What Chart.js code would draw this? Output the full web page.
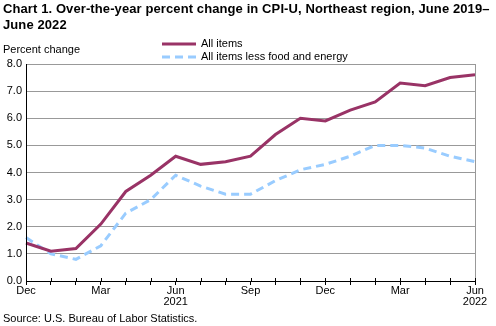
<!DOCTYPE html>
<html>
<head>
<meta charset="utf-8">
<script src="https://cdn.jsdelivr.net/npm/chart.js@4"></script>
<style>
    body { margin: 0; background: #fff; font-family: "Liberation Sans", Arial, sans-serif; }
    #wrap { position: relative; width: 496px; height: 326px; overflow: hidden; }
    #chart { position: absolute; left: 0; top: 0; }
    .title { position: absolute; left: 3px; top: 1px; font-size: 13px; font-weight: bold; line-height: 16px; width: 492px; letter-spacing: 0.1px; }
    .ylabel { position: absolute; left: 3px; top: 43px; font-size: 11px; }
    .legend { position: absolute; left: 162px; top: 37px; font-size: 11px; line-height: 13px; }
    .legend div { display: flex; align-items: center; height: 13px; }
    .legend canvas { margin-right: 5px; }
    .source { position: absolute; left: 3px; top: 312px; font-size: 11px; }
</style>
</head>
<body>
<div id="wrap">
    <canvas id="chart" width="496" height="326"></canvas>
    <div class="title">Chart 1. Over-the-year percent change in CPI-U, Northeast region, June 2019–June 2022</div>
    <div class="ylabel">Percent change</div>
    <div class="legend" id="legend"></div>
    <div class="source">Source: U.S. Bureau of Labor Statistics.</div>
</div>
<script>
// Data
const months = ['Dec 2020', 'Jan 2021', 'Feb 2021', 'Mar 2021', 'Apr 2021', 'May 2021', 'Jun 2021',
    'Jul 2021', 'Aug 2021', 'Sep 2021', 'Oct 2021', 'Nov 2021', 'Dec 2021',
    'Jan 2022', 'Feb 2022', 'Mar 2022', 'Apr 2022', 'May 2022', 'Jun 2022'];
const allItems = [1.4, 1.1, 1.2, 2.1, 3.3, 3.9, 4.6, 4.3, 4.4, 4.6, 5.4, 6.0, 5.9, 6.3, 6.6, 7.3, 7.2, 7.5, 7.6];
const lessFoodEnergy = [1.6, 1.0, 0.8, 1.3, 2.5, 3.0, 3.9, 3.5, 3.2, 3.2, 3.7, 4.1, 4.3, 4.6, 5.0, 5.0, 4.9, 4.6, 4.4];
const xTickLabels = {0: 'Dec', 3: 'Mar', 6: ['Jun', '2021'], 9: 'Sep', 12: 'Dec', 15: 'Mar', 18: ['Jun', '2022']};
const yTicks = [0, 1, 2, 3, 4, 5, 6, 7, 8];

const seriesStyles = [
    { label: 'All items', color: '#993366', dash: [] },
    { label: 'All items less food and energy', color: '#99CCFF', dash: [8, 5] }
];

// Right border, axis lines and the upper half of the x ticks
const axisDecor = {
    id: 'axisDecor',
    afterDraw(chart) {
        const { ctx, chartArea, scales } = chart;
        const bottom = Math.round(chartArea.bottom);
        ctx.save();
        ctx.lineWidth = 1;
        ctx.strokeStyle = '#999';
        ctx.beginPath();
        ctx.moveTo(Math.round(chartArea.right) + 0.5, chartArea.top);
        ctx.lineTo(Math.round(chartArea.right) + 0.5, bottom);
        ctx.stroke();
        ctx.strokeStyle = '#000';
        ctx.beginPath();
        ctx.moveTo(chartArea.left, bottom + 0.5);
        ctx.lineTo(chartArea.right + 1, bottom + 0.5);
        ctx.moveTo(Math.round(chartArea.left) + 0.5, chartArea.top);
        ctx.lineTo(Math.round(chartArea.left) + 0.5, bottom);
        for (let i = 0; i < months.length; i++) {
            const x = Math.round(scales.x.getPixelForValue(i)) + 0.5;
            ctx.moveTo(x, bottom - 3);
            ctx.lineTo(x, bottom + 1);
        }
        ctx.stroke();
        ctx.restore();
    }
};

const chart = new Chart(document.getElementById('chart'), {
    type: 'line',
    data: {
        labels: months,
        datasets: [
            {
                label: seriesStyles[0].label,
                data: allItems,
                borderColor: seriesStyles[0].color,
                borderWidth: 3,
                pointRadius: 0,
                tension: 0
            },
            {
                label: seriesStyles[1].label,
                data: lessFoodEnergy,
                borderColor: seriesStyles[1].color,
                borderWidth: 3,
                borderDash: seriesStyles[1].dash,
                pointRadius: 0,
                tension: 0
            }
        ]
    },
    options: {
        responsive: false,
        animation: false,
        layout: {
            padding: { left: 0, top: 64, right: 21, bottom: 13 }
        },
        plugins: {
            legend: { display: false },
            tooltip: { enabled: false }
        },
        scales: {
            x: {
                offset: false,
                grid: {
                    display: true,
                    drawOnChartArea: false,
                    drawTicks: true,
                    tickLength: 4,
                    color: '#000',
                    lineWidth: 1
                },
                border: { display: false },
                ticks: {
                    autoSkip: false,
                    maxRotation: 0,
                    color: '#000',
                    padding: 0,
                    font: { family: 'Liberation Sans', size: 11, lineHeight: 1.05 },
                    callback: (v, i) => xTickLabels[i] || ''
                },
                afterFit: (scale) => { scale.height = 32; }
            },
            y: {
                min: 0,
                max: 8,
                afterBuildTicks: (scale) => { scale.ticks = yTicks.map(v => ({ value: v })); },
                grid: { color: '#999', lineWidth: 1, drawTicks: false },
                border: { display: false },
                ticks: {
                    color: '#000',
                    padding: 4,
                    font: { family: 'Liberation Sans', size: 11 },
                    callback: (v) => v.toFixed(1)
                },
                afterFit: (scale) => { scale.width = 26; }
            }
        }
    },
    plugins: [axisDecor]
});

// Legend
const legendEl = document.getElementById('legend');
seriesStyles.forEach(s => {
    const row = document.createElement('div');
    const sw = document.createElement('canvas');
    sw.width = 34; sw.height = 6;
    const c = sw.getContext('2d');
    c.strokeStyle = s.color;
    c.lineWidth = 3;
    c.setLineDash(s.dash);
    c.beginPath(); c.moveTo(0, 3); c.lineTo(34, 3); c.stroke();
    row.appendChild(sw);
    row.appendChild(document.createTextNode(s.label));
    legendEl.appendChild(row);
});
</script>
</body>
</html>
